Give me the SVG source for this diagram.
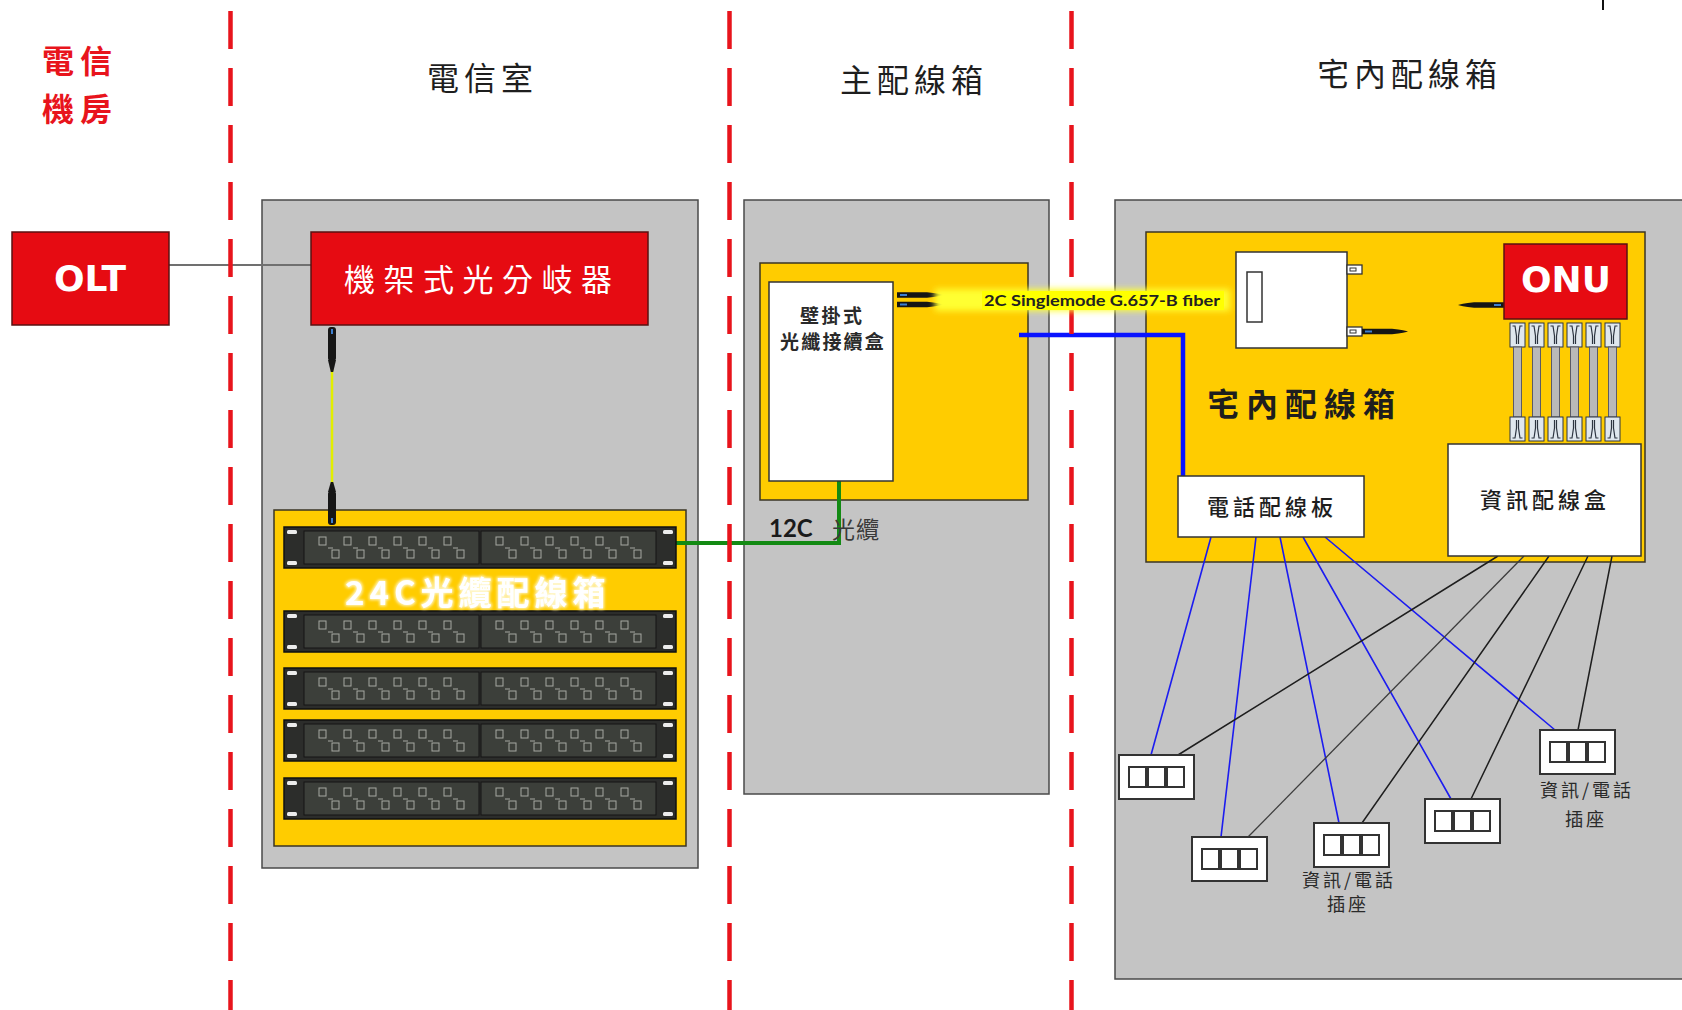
<svg xmlns="http://www.w3.org/2000/svg" width="1682" height="1010" viewBox="0 0 1682 1010">
<style>
  .cjk{font-family:"Noto Sans CJK TC","Noto Sans CJK SC",sans-serif}
  .lat{font-family:"DejaVu Sans","Liberation Sans",sans-serif}
  .room{fill:#c4c4c4;stroke:#4a4a4a;stroke-width:1.5}
  .yel{fill:#ffcc00;stroke:#3a3524;stroke-width:1.5}
  .wbox{fill:#ffffff;stroke:#333333;stroke-width:1.5}
  .redbox{fill:#e60b12;stroke:#5a1212;stroke-width:1.5}
  .zone{fill:none;stroke:#e8141c;stroke-width:4.5;stroke-dasharray:38 19}
  .title{font-size:32px;fill:#1e1e1e;letter-spacing:5px}
  .lbl{font-size:22px;fill:#1e1e1e;letter-spacing:4px;font-weight:500}
  .small{font-size:18px;fill:#2a2a2a;letter-spacing:3px}
  .phone{fill:none;stroke:#1c1cf0;stroke-width:1.6}
  .data{fill:none;stroke:#1e1e1e;stroke-width:1.5}
  .port{fill:none;stroke:#a6a9a2;stroke-width:1}
</style>
<defs>
  <filter id="soft" x="-10%" y="-60%" width="120%" height="220%">
    <feGaussianBlur stdDeviation="3"/>
  </filter>
  <filter id="glow" x="-5%" y="-20%" width="110%" height="140%">
    <feMorphology in="SourceAlpha" operator="dilate" radius="1" result="d"/>
    <feGaussianBlur in="d" stdDeviation="1.5" result="b"/>
    <feFlood flood-color="#fff6c8"/>
    <feComposite in2="b" operator="in" result="g"/>
    <feMerge><feMergeNode in="g"/><feMergeNode in="SourceGraphic"/></feMerge>
  </filter>
  <!-- one half of a patch panel: 12 staggered ports -->
  <g id="ports" class="port">
    <rect x="15" y="6" width="7" height="8"/><rect x="40" y="6" width="7" height="8"/>
    <rect x="65" y="6" width="7" height="8"/><rect x="90" y="6" width="7" height="8"/>
    <rect x="115" y="6" width="7" height="8"/><rect x="140" y="6" width="7" height="8"/>
    <rect x="28" y="19" width="7" height="8"/><rect x="53" y="19" width="7" height="8"/>
    <rect x="78" y="19" width="7" height="8"/><rect x="103" y="19" width="7" height="8"/>
    <rect x="128" y="19" width="7" height="8"/><rect x="153" y="19" width="7" height="8"/>
    <path d="M24 17h5M49 17h5M74 17h5M99 17h5M124 17h5M149 17h5"/>
  </g>
  <!-- 19-inch fibre patch panel -->
  <g id="patch">
    <rect x="0" y="0" width="392" height="41" fill="#2c2d2b" stroke="#111" stroke-width="1.5"/>
    <rect x="3" y="3" width="10" height="4" rx="1.5" fill="#ececec"/>
    <rect x="3" y="34" width="10" height="4" rx="1.5" fill="#ececec"/>
    <rect x="379" y="3" width="10" height="4" rx="1.5" fill="#ececec"/>
    <rect x="379" y="34" width="10" height="4" rx="1.5" fill="#ececec"/>
    <rect x="20" y="4" width="175" height="33" fill="#3c3f3a" stroke="#141414"/>
    <rect x="197" y="4" width="175" height="33" fill="#3c3f3a" stroke="#141414"/>
    <use href="#ports" x="20" y="4"/>
    <use href="#ports" x="197" y="4"/>
  </g>
  <!-- patch cord with RJ45 plugs at both ends -->
  <g id="cord">
    <rect x="0" y="0" width="15" height="24" fill="#dfe7ee" stroke="#2c3440"/>
    <path d="M2.5 3H5L6.5 13V21M12.5 3H10L8.5 13V21" fill="none" stroke="#2c3440" stroke-width="1.2"/>
    <rect x="3.5" y="24" width="8" height="70" fill="#b9b9b9" stroke="#5b5b66"/>
    <rect x="0" y="94" width="15" height="24" fill="#dfe7ee" stroke="#2c3440"/>
    <path d="M6.5 97V105L5 115H2.5M8.5 97V105L10 115H12.5" fill="none" stroke="#2c3440" stroke-width="1.2"/>
  </g>
  <!-- fibre connector, ferrule on the left -->
  <g id="fc">
    <path d="M0 -2.8H30Q44 -1.2 46 0Q44 1.2 30 2.8H0Z" fill="#151515"/>
    <rect x="3" y="-1" width="7" height="2" fill="#3d7fd0"/>
  </g>
  <!-- wall outlet with three jacks -->
  <g id="outlet">
    <rect x="0" y="0" width="75" height="44" fill="#fff" stroke="#333" stroke-width="2"/>
    <rect x="10" y="12" width="17" height="20" fill="#fff" stroke="#333" stroke-width="2"/>
    <rect x="29" y="12" width="17" height="20" fill="#fff" stroke="#333" stroke-width="2"/>
    <rect x="48" y="12" width="17" height="20" fill="#fff" stroke="#333" stroke-width="2"/>
  </g>
</defs>

<rect width="1682" height="1010" fill="#ffffff"/>

<!-- zone headings -->
<g id="headings" class="cjk">
  <text x="42" y="73" font-size="32" font-weight="bold" fill="#e8141c" letter-spacing="6">電信</text>
  <text x="42" y="121" font-size="32" font-weight="bold" fill="#e8141c" letter-spacing="6">機房</text>
  <text class="title" x="427" y="90">電信室</text>
  <text class="title" x="840" y="92">主配線箱</text>
  <text class="title" x="1317" y="86" letter-spacing="7">宅內配線箱</text>
</g>

<!-- room backgrounds -->
<g id="rooms">
  <rect id="room-telecom" class="room" x="262" y="200" width="436" height="668"/>
  <rect id="room-mdf" class="room" x="744" y="200" width="305" height="594"/>
  <rect id="room-home" class="room" x="1115" y="200" width="600" height="779"/>
</g>

<!-- enclosures -->
<g id="odf-24c">
  <rect class="yel" x="274" y="510" width="412" height="336"/>
</g>
<g id="mdf-box">
  <rect class="yel" x="760" y="263" width="268" height="237"/>
</g>
<g id="home-box">
  <rect class="yel" x="1146" y="232" width="499" height="330"/>
</g>

<!-- cabling -->
<g id="connectors">
  <line x1="169" y1="265" x2="311" y2="265" stroke="#707070" stroke-width="2"/>
  <line x1="332" y1="368" x2="332" y2="486" stroke="#e2ee00" stroke-width="2.5"/>
  <path d="M676 543H839V481" fill="none" stroke="#138a13" stroke-width="4"/>
  <path d="M1019 335H1183V476" fill="none" stroke="#0a14ff" stroke-width="4.5"/>
  <path class="phone" d="M1211 537L1151 755M1256 537L1221 837M1280 537L1339 823M1303 537L1451 799M1325 537L1555 730"/>
  <path class="data" d="M1498 556L1178 755M1549 556L1362 823M1588 556L1471 799M1612 556L1578 730"/>
  <path d="M1524 556L1248 837" fill="none" stroke="#3c3c3c" stroke-width="1.3"/>
</g>

<!-- OLT -->
<g id="olt">
  <rect class="redbox" x="12" y="232" width="157" height="93"/>
  <text class="lat" x="90" y="291" font-size="36" font-weight="bold" fill="#fff" text-anchor="middle">OLT</text>
</g>

<!-- rack splitter -->
<g id="splitter">
  <rect class="redbox" x="311" y="232" width="337" height="93"/>
  <text class="cjk" x="344" y="291" font-size="31" fill="#fff" letter-spacing="8.5">機架式光分岐器</text>
  <rect x="328" y="327" width="8" height="34" rx="3" fill="#161616"/>
  <path d="M328 360H336L333.2 372H330.8Z" fill="#161616"/>
  <rect x="331" y="329" width="2" height="5" fill="#3d7fd0"/>
  <path d="M330.8 482H333.2L336 492H328Z" fill="#161616"/>
  <rect x="328" y="491" width="8" height="34" rx="3" fill="#161616"/>
  <rect x="331" y="518" width="2" height="5" fill="#3d7fd0"/>
</g>

<!-- 24-core fibre distribution frame -->
<g id="odf-panels">
  <use href="#patch" x="284" y="527"/>
  <use href="#patch" x="284" y="611"/>
  <use href="#patch" x="284" y="668"/>
  <use href="#patch" x="284" y="720"/>
  <use href="#patch" x="284" y="778"/>
  <text class="cjk" x="345" y="605" font-size="33" font-weight="bold" fill="#ffffff" letter-spacing="5" filter="url(#glow)">24C光纜配線箱</text>
</g>

<!-- wall-mounted splice box -->
<g id="splice-box">
  <rect class="wbox" x="769" y="282" width="124" height="199"/>
  <text class="cjk" x="800" y="323" font-size="19" font-weight="bold" fill="#2a2a2a" letter-spacing="2.5">壁掛式</text>
  <text class="cjk" x="780" y="349" font-size="19" font-weight="bold" fill="#2a2a2a" letter-spacing="2.2">光纖接續盒</text>
  <use href="#fc" x="897" y="295"/>
  <use href="#fc" x="897" y="304.5"/>
</g>

<g id="cable-12c">
  <text x="769" y="537" font-family="Lato,'Open Sans',sans-serif" font-size="24" font-weight="bold" fill="#1a1a1a">12C</text>
  <text class="cjk" x="832" y="538" font-size="23" fill="#3a3a3a" letter-spacing="1">光纜</text>
</g>

<!-- fibre termination box -->
<g id="ftb">
  <rect class="wbox" x="1236" y="252" width="111" height="96"/>
  <rect x="1247" y="272" width="15" height="50" fill="#fff" stroke="#333" stroke-width="1.5"/>
  <rect x="1347" y="265" width="15" height="9" fill="#fff" stroke="#333" stroke-width="1.3"/>
  <rect x="1350" y="268" width="6" height="3" fill="none" stroke="#333"/>
  <rect x="1347" y="327" width="15" height="9" fill="#fff" stroke="#333" stroke-width="1.3"/>
  <rect x="1350" y="330" width="6" height="3" fill="none" stroke="#333"/>
  <use href="#fc" x="1362" y="331.5"/>
</g>

<g id="home-label">
  <text class="cjk" x="1207" y="416" font-size="32" font-weight="bold" fill="#1e1e1e" letter-spacing="7">宅內配線箱</text>
</g>

<!-- ONU -->
<g id="onu">
  <use href="#fc" transform="translate(1504 305) scale(-1 1)"/>
  <rect class="redbox" x="1504" y="244" width="123" height="75"/>
  <text class="lat" x="1566" y="292" font-size="36" font-weight="bold" fill="#fff" text-anchor="middle">ONU</text>
  <use href="#cord" x="1510" y="323"/>
  <use href="#cord" x="1529" y="323"/>
  <use href="#cord" x="1548" y="323"/>
  <use href="#cord" x="1567" y="323"/>
  <use href="#cord" x="1586" y="323"/>
  <use href="#cord" x="1605" y="323"/>
</g>

<g id="phone-board">
  <rect class="wbox" x="1178" y="476" width="186" height="61"/>
  <text class="cjk lbl" x="1207" y="515">電話配線板</text>
</g>

<g id="data-box">
  <rect class="wbox" x="1448" y="444" width="193" height="112"/>
  <text class="cjk lbl" x="1480" y="508">資訊配線盒</text>
</g>

<!-- wall outlets -->
<g id="outlet-1"><use href="#outlet" x="1119" y="755"/></g>
<g id="outlet-2"><use href="#outlet" x="1192" y="837"/></g>
<g id="outlet-3">
  <use href="#outlet" x="1314" y="823"/>
  <text class="cjk small" x="1302" y="887">資訊/電話</text>
  <text class="cjk small" x="1327" y="911">插座</text>
</g>
<g id="outlet-4"><use href="#outlet" x="1425" y="799"/></g>
<g id="outlet-5">
  <use href="#outlet" x="1540" y="730"/>
  <text class="cjk small" x="1540" y="797">資訊/電話</text>
  <text class="cjk small" x="1565" y="826">插座</text>
</g>

<!-- zone boundaries -->
<g id="boundaries">
  <line class="zone" x1="230.5" y1="11" x2="230.5" y2="1010"/>
  <line class="zone" x1="729.5" y1="11" x2="729.5" y2="1010"/>
  <line class="zone" x1="1071.5" y1="11" x2="1071.5" y2="1010"/>
  <line x1="1603" y1="0" x2="1603" y2="10" stroke="#111" stroke-width="2"/>
</g>

<!-- fibre label with highlight, laid over the boundary line -->
<g id="fiber-label">
  <rect x="935" y="289" width="295" height="22" fill="#ffff33" filter="url(#soft)"/>
  <rect x="982" y="291" width="242" height="19" fill="#ffff00"/>
  <text x="984" y="306" font-family="Lato,'Open Sans',sans-serif" font-size="16" font-weight="bold" fill="#222" textLength="236" lengthAdjust="spacingAndGlyphs">2C Singlemode G.657-B fiber</text>
</g>
</svg>
